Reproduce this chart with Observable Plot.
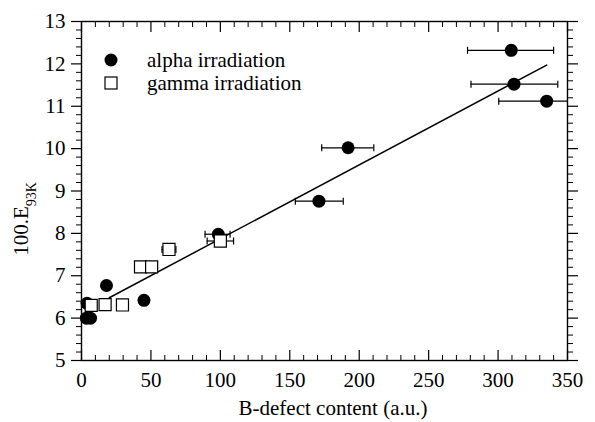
<!DOCTYPE html>
<html><head><meta charset="utf-8">
<script src="https://cdn.jsdelivr.net/npm/d3@7"></script>
<script src="https://cdn.jsdelivr.net/npm/@observablehq/plot@0.6"></script>
<style>body{margin:0;background:#fff;} #chart{width:595px;height:422px;}</style>
</head><body><div id="chart"></div>
<script>
// alpha irradiation (filled circles)
const alphaX = [3.5, 6.5, 4, 18, 45, 98.5, 171, 192, 309.5, 311.5, 335];
const alphaY = [6.0, 6.0, 6.35, 6.77, 6.42, 7.98, 8.76, 10.02, 12.32, 11.52, 11.12];
const alphaErrLo = [null, null, null, null, null, 89, 154, 173, 278, 280.5, 300.5];
const alphaErrHi = [null, null, null, null, null, 107, 188.5, 210.5, 340, 343, 369];
// gamma irradiation (open squares)
const gammaX = [7, 17, 29.5, 42.5, 50.5, 63, 100];
const gammaY = [6.30, 6.32, 6.31, 7.21, 7.21, 7.62, 7.82];
const gammaErrLo = [null, null, null, null, null, 58, 90.5];
const gammaErrHi = [null, null, null, null, null, 68, 109.5];
// fitted line
const fitX = [20, 335];
const fitY = [6.48, 11.97];
// ticks
const xMajor = [0, 50, 100, 150, 200, 250, 300, 350];
const yMajor = [5, 6, 7, 8, 9, 10, 11, 12, 13];
const xMinor = d3.range(0, 351, 10).filter(v => v % 50 !== 0);
const yMinor = d3.range(5, 13.01, 0.2).map(v => +v.toFixed(1)).filter(v => Math.abs(v - Math.round(v)) > 1e-6);
const legendLabels = ["alpha irradiation", "gamma irradiation"];
const xLabel = "B-defect content (a.u.)";

const alpha = alphaX.map((x, i) => ({x, y: alphaY[i]}));
const gamma = gammaX.map((x, i) => ({x, y: gammaY[i]}));
const errs = [
  ...alphaX.map((x, i) => ({y: alphaY[i], lo: alphaErrLo[i], hi: alphaErrHi[i]})),
  ...gammaX.map((x, i) => ({y: gammaY[i], lo: gammaErrLo[i], hi: gammaErrHi[i]}))
].filter(d => d.lo != null);
const fit = fitX.map((x, i) => ({x, y: fitY[i]}));

const capSymbol = {draw(ctx) { ctx.moveTo(0, -3.5); ctx.lineTo(0, 3.5); }};
const blank = () => "";

const plot = Plot.plot({
  width: 595, height: 422,
  marginLeft: 81, marginRight: 28, marginTop: 21, marginBottom: 62,
  style: {fontFamily: "'Liberation Serif', serif", fontSize: "21px", color: "black", background: "white"},
  x: {domain: [0, 350], label: null},
  y: {domain: [5, 13], label: null},
  marks: [
    Plot.axisX(xMajor, {anchor: "bottom", tickSize: -10, tickFormat: blank, label: null, strokeWidth: 1.2}),
    Plot.axisX(xMinor, {anchor: "bottom", tickSize: -5, tickFormat: blank, label: null}),
    Plot.axisX(xMajor, {anchor: "top", tickSize: -10, tickFormat: blank, label: null, strokeWidth: 1.2}),
    Plot.axisX(xMinor, {anchor: "top", tickSize: -5, tickFormat: blank, label: null}),
    Plot.axisX(xMajor, {anchor: "bottom", tickSize: 0, tickPadding: 12, label: null}),
    Plot.axisY(yMajor, {anchor: "left", tickSize: 10, tickPadding: 6, label: null, strokeWidth: 1.2}),
    Plot.axisY(yMinor, {anchor: "left", tickSize: 5, tickFormat: blank, label: null}),
    Plot.axisY(yMajor, {anchor: "right", tickSize: 10, tickFormat: blank, label: null, strokeWidth: 1.2}),
    Plot.axisY(yMinor, {anchor: "right", tickSize: 5, tickFormat: blank, label: null}),
    Plot.frame({stroke: "black", strokeWidth: 1.4}),
    Plot.line(fit, {x: "x", y: "y", stroke: "black", strokeWidth: 1.5}),
    Plot.ruleY(errs, {y: "y", x1: "lo", x2: "hi", stroke: "black", strokeWidth: 1.2, clip: true}),
    Plot.dot(errs, {x: "lo", y: "y", symbol: capSymbol, stroke: "black", strokeWidth: 1.2, r: 3}),
    Plot.dot(errs.filter(d => d.hi <= 350), {x: "hi", y: "y", symbol: capSymbol, stroke: "black", strokeWidth: 1.2, r: 3}),
    Plot.dot(alpha, {x: "x", y: "y", r: 6.5, fill: "black", stroke: null}),
    Plot.dot(gamma, {x: "x", y: "y", r: 6.8, symbol: "square", fill: "white", stroke: "black", strokeWidth: 1.2})
  ]
});
document.getElementById("chart").appendChild(plot);

const svg = d3.select(plot);
// x-axis title
svg.append("text").attr("x", 333).attr("y", 415).attr("text-anchor", "middle")
  .attr("font-size", 21).style("fill", "#000").text(xLabel);
// y-axis title with subscript
const yl = svg.append("text").attr("transform", "translate(28,219) rotate(-90)")
  .attr("text-anchor", "middle").attr("font-size", 21).style("fill", "#000");
yl.append("tspan").text("100.E");
yl.append("tspan").attr("font-size", 14).attr("dy", 8).text("93K");
// legend
const lg = svg.append("g");
lg.append("circle").attr("cx", 111).attr("cy", 60).attr("r", 6.5).style("fill", "#000");
lg.append("rect").attr("x", 105).attr("y", 77).attr("width", 12).attr("height", 12)
  .style("fill", "#fff").style("stroke", "#000").attr("stroke-width", 1.2);
lg.append("text").attr("x", 147).attr("y", 67).attr("text-anchor", "start").attr("font-size", 21).style("fill", "#000").text(legendLabels[0]);
lg.append("text").attr("x", 147).attr("y", 90).attr("text-anchor", "start").attr("font-size", 21).style("fill", "#000").text(legendLabels[1]);
</script>
</body></html>
